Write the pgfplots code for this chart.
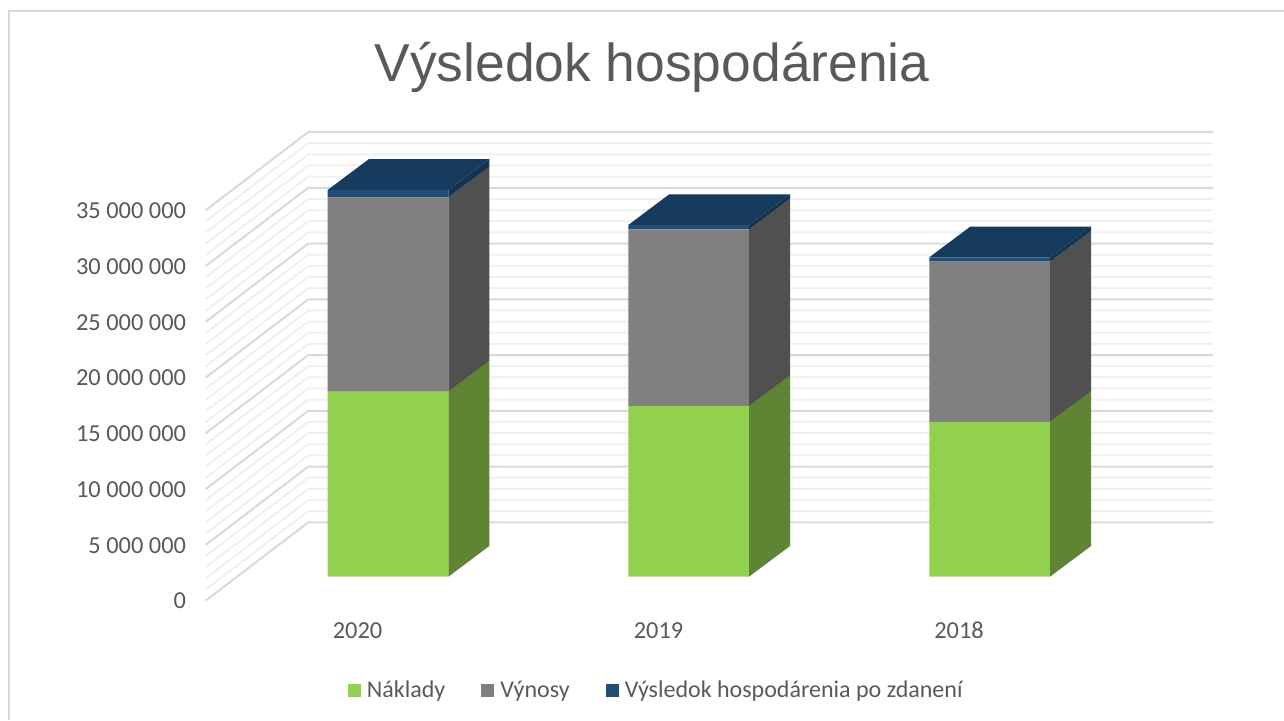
\documentclass[border=0pt]{standalone}
\usepackage{pgfplots}
\pgfplotsset{compat=1.18}
\usepackage{fontspec}
\setmainfont{Carlito}
\newfontfamily\titlefont{Liberation Sans}
\definecolor{txt}{HTML}{595959}
\definecolor{maj}{HTML}{D9D9D9}
\definecolor{mnr}{HTML}{F0F0F0}
\definecolor{gf}{HTML}{92D050}
\definecolor{gs}{HTML}{5F8433}
\definecolor{yf}{HTML}{808080}
\definecolor{ys}{HTML}{505050}
\definecolor{bf}{HTML}{1F4E79}
\definecolor{bs}{HTML}{123352}
\definecolor{bt}{HTML}{163A5C}
\pgfplotsset{canvas/.style={scale only axis,width=642pt,height=360pt,xmin=0,xmax=1284,enlargelimits=false,unbounded coords=jump}}
\begin{document}
\begin{tikzpicture}
% walls, ticks, title
\begin{axis}[canvas,ymin=-10.707,ymax=53.856,
  axis line style={draw=none},tick style={draw=none},
  ytick={0,5,10,15,20,25,30,35},
  yticklabels={0,5 000 000,10 000 000,15 000 000,20 000 000,25 000 000,30 000 000,35 000 000},
  xtick={357.5,658.5,959},xticklabels={2020,2019,2018},
  tick align=outside,
  yticklabel style={anchor=east,xshift=97.5pt,yshift=-0.25pt,font=\fontsize{12.2}{14}\selectfont,text=txt},
  xticklabel style={anchor=center,yshift=49pt,font=\fontsize{12.2}{14}\selectfont,text=txt},
  y tick label style={inner sep=0pt},x tick label style={inner sep=0pt},
  title={\titlefont\fontsize{26.7}{32}\selectfont\textcolor{txt}{Výsledok hospodárenia}},
  title style={at={(0.5078,0.8904)},anchor=center,inner sep=0pt},
  ]
\addplot[mnr,line width=1pt] coordinates {
(205.7,1)(308.3,8.02)(1213,8.02)(0,nan)
(205.7,2)(308.3,9.02)(1213,9.02)(0,nan)
(205.7,3)(308.3,10.02)(1213,10.02)(0,nan)
(205.7,4)(308.3,11.02)(1213,11.02)(0,nan)
(205.7,6)(308.3,13.02)(1213,13.02)(0,nan)
(205.7,7)(308.3,14.02)(1213,14.02)(0,nan)
(205.7,8)(308.3,15.02)(1213,15.02)(0,nan)
(205.7,9)(308.3,16.02)(1213,16.02)(0,nan)
(205.7,11)(308.3,18.02)(1213,18.02)(0,nan)
(205.7,12)(308.3,19.02)(1213,19.02)(0,nan)
(205.7,13)(308.3,20.02)(1213,20.02)(0,nan)
(205.7,14)(308.3,21.02)(1213,21.02)(0,nan)
(205.7,16)(308.3,23.02)(1213,23.02)(0,nan)
(205.7,17)(308.3,24.02)(1213,24.02)(0,nan)
(205.7,18)(308.3,25.02)(1213,25.02)(0,nan)
(205.7,19)(308.3,26.02)(1213,26.02)(0,nan)
(205.7,21)(308.3,28.02)(1213,28.02)(0,nan)
(205.7,22)(308.3,29.02)(1213,29.02)(0,nan)
(205.7,23)(308.3,30.02)(1213,30.02)(0,nan)
(205.7,24)(308.3,31.02)(1213,31.02)(0,nan)
(205.7,26)(308.3,33.02)(1213,33.02)(0,nan)
(205.7,27)(308.3,34.02)(1213,34.02)(0,nan)
(205.7,28)(308.3,35.02)(1213,35.02)(0,nan)
(205.7,29)(308.3,36.02)(1213,36.02)(0,nan)
(205.7,31)(308.3,38.02)(1213,38.02)(0,nan)
(205.7,32)(308.3,39.02)(1213,39.02)(0,nan)
(205.7,33)(308.3,40.02)(1213,40.02)(0,nan)
(205.7,34)(308.3,41.02)(1213,41.02)
};
\addplot[maj,line width=1pt] coordinates {
(205.7,0)(308.3,7.02)(1213,7.02)(0,nan)
(205.7,5)(308.3,12.02)(1213,12.02)(0,nan)
(205.7,10)(308.3,17.02)(1213,17.02)(0,nan)
(205.7,15)(308.3,22.02)(1213,22.02)(0,nan)
(205.7,20)(308.3,27.02)(1213,27.02)(0,nan)
(205.7,25)(308.3,32.02)(1213,32.02)(0,nan)
(205.7,30)(308.3,37.02)(1213,37.02)(0,nan)
(205.7,35)(308.3,42.02)(1213,42.02)
};
% chart frame: left and top edges
\addplot[maj,line width=1pt] coordinates {(9,-10.707)(9,52.87)(1284,52.87)};
\end{axis}
% side and top faces of the bars
\begin{axis}[canvas,hide axis,ymin=-12850000,ymax=51713000]
\addplot[fill=gs,draw=none] coordinates {(448.3,0)(489.3,2753000)(489.3,19353000)(448.3,16600000)} -- cycle;
\addplot[fill=ys,draw=none] coordinates {(448.3,16600000)(489.3,19353000)(489.3,36773000)(448.3,34020000)} -- cycle;
\addplot[fill=bs,draw=none] coordinates {(448.3,34020000)(489.3,36773000)(489.3,37433000)(448.3,34680000)} -- cycle;
\addplot[fill=bt,draw=none] coordinates {(327.7,34680000)(448.3,34680000)(489.3,37433000)(368.7,37433000)} -- cycle;
\addplot[fill=gs,draw=none] coordinates {(749,0)(790,2753000)(790,18053000)(749,15300000)} -- cycle;
\addplot[fill=ys,draw=none] coordinates {(749,15300000)(790,18053000)(790,33903000)(749,31150000)} -- cycle;
\addplot[fill=bs,draw=none] coordinates {(749,31150000)(790,33903000)(790,34293000)(749,31540000)} -- cycle;
\addplot[fill=bt,draw=none] coordinates {(628.3,31540000)(749,31540000)(790,34293000)(669.3,34293000)} -- cycle;
\addplot[fill=gs,draw=none] coordinates {(1050,0)(1091,2753000)(1091,16623000)(1050,13870000)} -- cycle;
\addplot[fill=ys,draw=none] coordinates {(1050,13870000)(1091,16623000)(1091,31003000)(1050,28250000)} -- cycle;
\addplot[fill=bs,draw=none] coordinates {(1050,28250000)(1091,31003000)(1091,31393000)(1050,28640000)} -- cycle;
\addplot[fill=bt,draw=none] coordinates {(929.3,28640000)(1050,28640000)(1091,31393000)(970.3,31393000)} -- cycle;
\end{axis}
% front faces of the bars, with the legend
\begin{axis}[canvas,hide axis,ymin=-12850000,ymax=51713000,
  ybar stacked,bar width=60.3pt,
  legend columns=3,
  legend style={at={(0.5118,0.0405)},anchor=center,draw=none,fill=none,
    font=\fontsize{12}{14}\selectfont,text=txt,inner sep=0pt,
    /tikz/every odd column/.append style={column sep=1pt},
    /tikz/every even column/.append style={column sep=16pt}},
  legend image code/.code={\fill[#1,draw=none] (0pt,-3.3pt) rectangle (6.6pt,3.3pt);},
  ]
\addplot[fill=gf,draw=none] coordinates {(388,16600000)(688.65,15300000)(989.65,13870000)};
\addplot[fill=yf,draw=none] coordinates {(388,17420000)(688.65,15850000)(989.65,14380000)};
\addplot[fill=bf,draw=none] coordinates {(388,660000)(688.65,390000)(989.65,390000)};
\legend{Náklady,Výnosy,Výsledok hospodárenia po zdanení}
\end{axis}
\pgfresetboundingbox
\useasboundingbox (0pt,0pt) rectangle (642pt,360pt);
\end{tikzpicture}
\end{document}
